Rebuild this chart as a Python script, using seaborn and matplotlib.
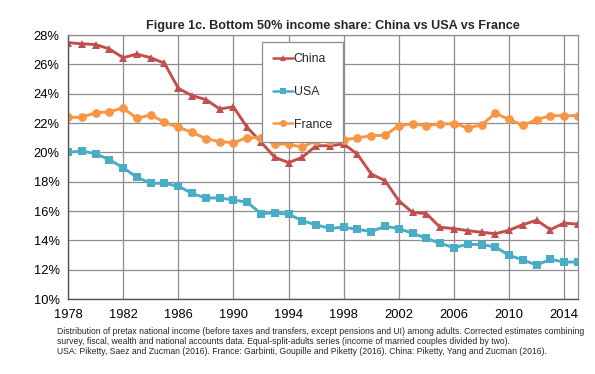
import matplotlib
matplotlib.use("Agg")
import matplotlib.pyplot as plt
import seaborn as sns
import pandas as pd
import numpy as np

years = list(range(1978, 2016))
china = [27.48, 27.40, 27.35, 27.05, 26.45, 26.70, 26.45, 26.07, 24.37, 23.86,
         23.60, 22.96, 23.10, 21.70, 20.70, 19.66, 19.30, 19.66, 20.45, 20.45,
         20.57, 19.87, 18.52, 18.07, 16.70, 15.90, 15.82, 14.89, 14.80, 14.66,
         14.55, 14.45, 14.69, 15.07, 15.37, 14.73, 15.18, 15.10]
usa = [20.00, 20.09, 19.90, 19.50, 18.95, 18.30, 17.89, 17.89, 17.69, 17.20,
       16.89, 16.89, 16.75, 16.60, 15.82, 15.87, 15.78, 15.34, 15.05, 14.82,
       14.89, 14.75, 14.60, 14.96, 14.80, 14.48, 14.14, 13.80, 13.50, 13.73,
       13.71, 13.55, 12.98, 12.66, 12.32, 12.70, 12.52, 12.52]
france = [22.39, 22.39, 22.70, 22.77, 23.02, 22.32, 22.55, 22.05, 21.70, 21.37,
          20.93, 20.73, 20.66, 21.00, 21.00, 20.57, 20.55, 20.36, 20.80, 20.80,
          20.86, 20.98, 21.14, 21.16, 21.82, 21.95, 21.82, 21.93, 21.95, 21.68,
          21.86, 22.66, 22.25, 21.84, 22.23, 22.50, 22.50, 22.50]
series_names = ["China", "USA", "France"]
x_ticks = list(range(1978, 2015, 4))
y_ticks = list(range(10, 29, 2))
title = "Figure 1c. Bottom 50% income share: China vs USA vs France"
notes = [
    "Distribution of pretax national income (before taxes and transfers, except pensions and UI) among adults. Corrected estimates combining",
    "survey, fiscal, wealth and national accounts data. Equal-split-adults series (income of married couples divided by two).",
    "USA: Piketty, Saez and Zucman (2016). France: Garbinti, Goupille and Piketty (2016). China: Piketty, Yang and Zucman (2016).",
]

df = pd.DataFrame({
    "year": years * 3,
    "share": china + usa + france,
    "country": ["China"] * len(years) + ["USA"] * len(years) + ["France"] * len(years),
})

sns.set_theme(style="white")
plt.rcParams["font.family"] = ["Liberation Sans", "DejaVu Sans"]

fig = plt.figure(figsize=(5.95, 3.74), dpi=100)
ax = fig.add_axes([68 / 595, 1 - 299 / 374, 510 / 595, 264 / 374])

palette = {"China": "#C0504D", "USA": "#4BACC6", "France": "#F79646"}
markers = {"China": "^", "USA": "s", "France": "o"}
sns.lineplot(data=df, x="year", y="share", hue="country", style="country",
             hue_order=series_names, style_order=series_names,
             palette=palette, markers=markers, dashes=False,
             linewidth=2.1, markersize=6.3, markeredgewidth=0, ax=ax)

ax.set_xlim(1978, 2015)
ax.set_ylim(10, 28)
ax.set_xticks(x_ticks)
ax.set_yticks(y_ticks)
ax.set_yticklabels([f"{v}%" for v in y_ticks])
ax.set_xlabel("")
ax.set_ylabel("")
ax.grid(True, color="#8c8c8c", linewidth=0.9)
ax.set_axisbelow(True)
for side in ["top", "right"]:
    ax.spines[side].set_color("#8c8c8c")
    ax.spines[side].set_linewidth(0.9)
for side in ["left", "bottom"]:
    ax.spines[side].set_color("#555555")
    ax.spines[side].set_linewidth(1.0)
ax.tick_params(axis="both", labelsize=9.3, colors="black", length=3, width=0.8,
               direction="out", pad=3)
ax.tick_params(axis="x", pad=4)

handles, labels = ax.get_legend_handles_labels()
leg = ax.legend(handles, labels, loc="upper left",
                bbox_to_anchor=((262 - 68) / 510, (299 - 42) / 264),
                frameon=True, fancybox=False, fontsize=8.8,
                handlelength=1.6, handletextpad=0.1, labelspacing=1.7,
                borderpad=0.9, borderaxespad=0)
leg.get_frame().set_edgecolor("#8c8c8c")
leg.get_frame().set_linewidth(0.9)
leg.get_frame().set_alpha(1)
for h in leg.legend_handles:
    h.set_markersize(5)
    h.set_linewidth(1.8)

fig.text(333 / 595, 1 - 26 / 374, title, ha="center", va="center",
         fontsize=9.1, fontweight="bold")
for i, line in enumerate(notes):
    fig.text(57 / 595, 1 - (332 + 10 * i) / 374, line, ha="left", va="center",
             fontsize=6.25)

fig.savefig("out.png", dpi=100)
